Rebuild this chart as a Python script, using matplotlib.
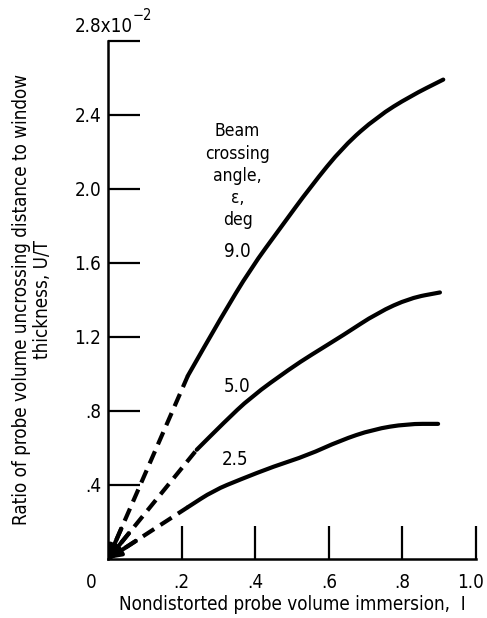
import matplotlib
matplotlib.use("Agg")
import matplotlib.pyplot as plt
from matplotlib import font_manager as fm
from matplotlib.path import Path
from matplotlib.patches import PathPatch
from matplotlib.transforms import ScaledTranslation

# Measured curves: nondistorted probe volume immersion I vs ratio U/T (x10^-2)
immersion_90 = [0.217, 0.306, 0.388, 0.469, 0.550, 0.640, 0.732, 0.821, 0.911]
ratio_90 = [0.99, 1.30, 1.57, 1.79, 2.01, 2.23, 2.39, 2.50, 2.59]

immersion_50 = [0.241, 0.314, 0.388, 0.496, 0.550, 0.640, 0.732, 0.821, 0.902]
ratio_50 = [0.59, 0.735, 0.875, 1.03, 1.10, 1.21, 1.33, 1.41, 1.44]

immersion_25 = [0.217, 0.287, 0.360, 0.450, 0.542, 0.631, 0.720, 0.813, 0.897]
ratio_25 = [0.28, 0.37, 0.43, 0.50, 0.56, 0.64, 0.70, 0.73, 0.73]

angle_labels = ["9.0", "5.0", "2.5"]

x_ticks = [0.2, 0.4, 0.6, 0.8, 1.0]
x_tick_labels = [".2", ".4", ".6", ".8", "1.0"]
y_ticks = [0.4, 0.8, 1.2, 1.6, 2.0, 2.4, 2.8]
y_tick_labels = [".4", ".8", "1.2", "1.6", "2.0", "2.4", ""]

# Prefer a narrow sans face; fall back to regular DejaVu Sans at a smaller size
names = {f.name for f in fm.fontManager.ttflist}
cond = fm.findfont(fm.FontProperties(family="DejaVu Sans", stretch="condensed"))
if "Liberation Sans Narrow" in names:
    plt.rcParams["font.family"] = ["Liberation Sans Narrow", "DejaVu Sans"]
    fs = 14
elif "Condensed" in cond:
    plt.rcParams["font.family"] = ["DejaVu Sans"]
    plt.rcParams["font.stretch"] = "condensed"
    fs = 13.5
else:
    plt.rcParams["font.family"] = ["DejaVu Sans"]
    fs = 12.2

fig = plt.figure(figsize=(4.87, 6.18), dpi=100)
ax = fig.add_axes([0.2218, 0.0955, 0.7556, 0.8386])
ax.set_xlim(0, 1.0)
ax.set_ylim(0, 2.8)

for s in ("top", "right"):
    ax.spines[s].set_visible(False)
for s in ("left", "bottom"):
    ax.spines[s].set_linewidth(1.8)

ax.set_xticks(x_ticks)
ax.set_xticklabels(x_tick_labels)
ax.set_yticks(y_ticks)
ax.set_yticklabels(y_tick_labels)
ax.tick_params(axis="x", direction="in", length=24, width=1.6, pad=10, labelsize=fs)
ax.tick_params(axis="y", direction="in", length=23, width=1.6, pad=5, labelsize=fs)
for t in ax.get_xticklines() + ax.get_yticklines():
    t.set_clip_on(False)
# keep the last x label inside the figure edge
last = ax.get_xticklabels()[-1]
last.set_transform(last.get_transform() + ScaledTranslation(-4 / 72, 0, fig.dpi_scale_trans))


def smooth_path(xs, ys):
    """Quadratic B-spline style path through the midpoints of the measured points."""
    pts = list(zip(xs, ys))
    verts = [pts[0]]
    codes = [Path.MOVETO]
    mid = ((pts[0][0] + pts[1][0]) / 2, (pts[0][1] + pts[1][1]) / 2)
    verts.append(mid)
    codes.append(Path.LINETO)
    for i in range(1, len(pts) - 1):
        nxt = ((pts[i][0] + pts[i + 1][0]) / 2, (pts[i][1] + pts[i + 1][1]) / 2)
        verts += [pts[i], nxt]
        codes += [Path.CURVE3, Path.CURVE3]
    verts.append(pts[-1])
    codes.append(Path.LINETO)
    return Path(verts, codes)


lw = 3.0
aspect = (0.8386 * 6.18 / 2.8) / (0.7556 * 4.87 / 1.0)
curves = [(immersion_90, ratio_90), (immersion_50, ratio_50), (immersion_25, ratio_25)]
for xs, ys in curves:
    ax.add_patch(PathPatch(smooth_path(xs, ys), facecolor="none", edgecolor="black",
                           lw=lw, capstyle="round", clip_on=False))
    # dashed extrapolation back to the origin, ending in an arrowhead
    ax.plot([0, xs[0]], [0, ys[0]], color="black", lw=lw, dashes=(3.2, 1.8),
            dash_capstyle="butt")
    frac = 0.09 / (xs[0] ** 2 + (ys[0] * aspect) ** 2) ** 0.5
    ax.annotate("", xy=(0, 0), xytext=(xs[0] * frac, ys[0] * frac),
                arrowprops=dict(arrowstyle="-|>,head_length=0.7,head_width=0.3",
                                color="black", lw=lw, shrinkA=0, shrinkB=0),
                annotation_clip=False)

# Curve labels
ax.text(0.352, 1.66, angle_labels[0], ha="center", va="center", fontsize=fs)
ax.text(0.350, 0.93, angle_labels[1], ha="center", va="center", fontsize=fs)
ax.text(0.344, 0.535, angle_labels[2], ha="center", va="center", fontsize=fs)
ax.text(0.352, 2.07, "Beam\ncrossing\nangle,\n\u03b5,\ndeg", ha="center", va="center",
        fontsize=fs - 1, linespacing=1.3)

# Top tick label with power-of-ten multiplier
base = ax.annotate("2.8x10", xy=(0, 2.8), xytext=(-24, 6), textcoords="offset points",
                   ha="left", va="baseline", fontsize=fs, annotation_clip=False)
ax.annotate("\u22122", xy=(1, 1), xycoords=base, xytext=(0, -4),
            textcoords="offset points", ha="left", va="bottom", fontsize=fs - 3,
            annotation_clip=False)

# Shared origin label
ax.annotate("0", xy=(0, 0), xytext=(-12, -10), textcoords="offset points",
            ha="center", va="top", fontsize=fs, annotation_clip=False)

ax.set_xlabel("Nondistorted probe volume immersion,  I", fontsize=fs, labelpad=2)
ax.set_ylabel("Ratio of probe volume uncrossing distance to window\nthickness, U/T",
              fontsize=fs, labelpad=16, linespacing=1.15)

fig.savefig("out.png", dpi=100)
